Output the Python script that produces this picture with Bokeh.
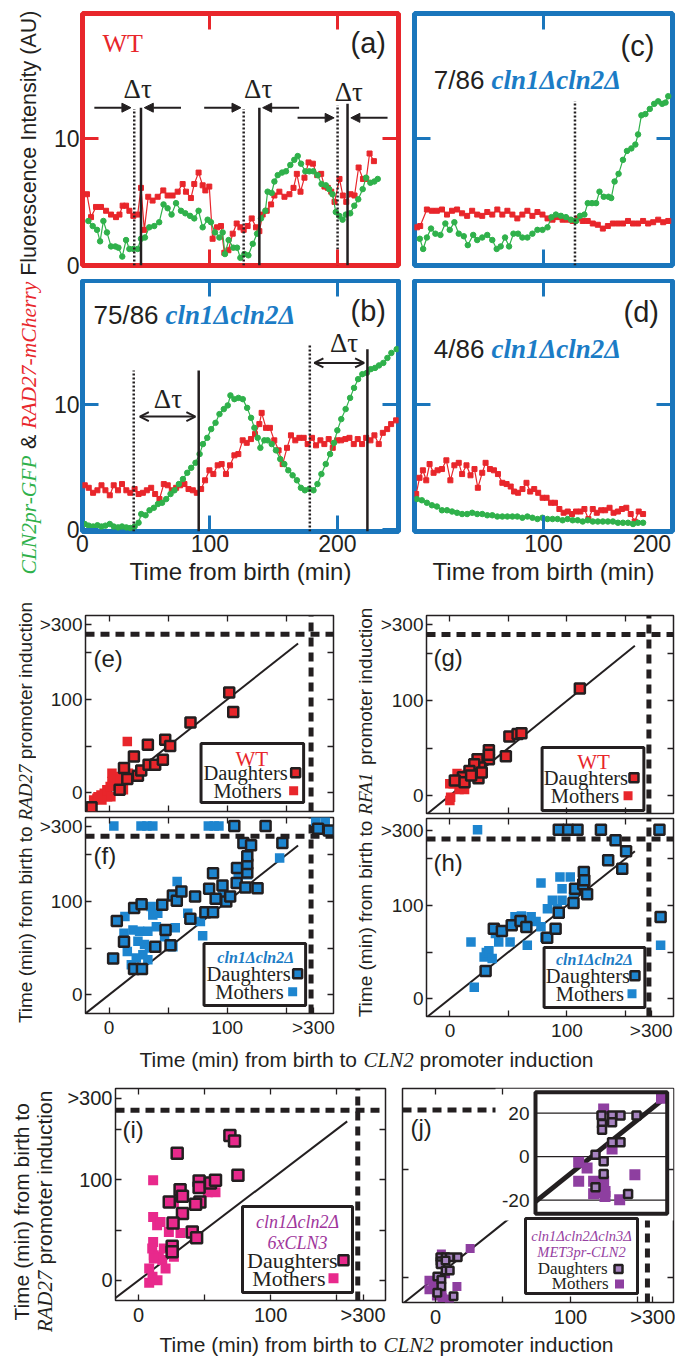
import math
from bokeh.plotting import figure
from bokeh.layouts import row, column
from bokeh.models import Range1d, LinearAxis, FixedTicker, Label, Arrow, NormalHead, OpenHead
from bokeh.core.properties import value
from bokeh.embed import file_html
from bokeh.resources import INLINE

# ======================= DATA =======================
# Single-cell traces: (time from birth [min], fluorescence [AU])
a_red = [(3.5,5.6),(6.7,3.8),(10.6,4.6),(14.5,4.6),(18.5,4.3),(22.4,4.0),(26.3,3.8),(29,4.0),(31.5,4.7),(34.2,4.7),
         (36.8,4.3),(39.9,3.9),(43.3,4.0),(45.9,6.1),(48.5,2.8),(51.6,5.4),(55,5.1),(59,5.4),(63.4,5.9),(66.8,5.5),
         (70.7,5.5),(74.7,5.8),(78.6,6.4),(81.2,5.8),(85.1,5.3),(87.7,6.4),(91.1,7.3),(94.3,6.3),(96.4,5.9),(99.5,6.2),
         (102.1,2.1),(105.6,3.0),(108.7,3.1),(111.3,1.0),(114.5,1.2),(117.9,2.5),(121,3.3),(123.9,3.0),(126.5,2.8),
         (129.6,3.1),(132.8,3.7),(136.2,3.0),(138.8,2.7),(141.4,4.0),(144.6,4.3),(148,4.8),(150.6,5.5),(154.5,5.8),
         (158.5,5.4),(162.4,5.6),(165.6,6.1),(168.2,7.2),(171.1,5.8),(174.2,6.9),(177.4,8.1),(180.8,8.0),(184.2,7.1),
         (187.3,7.2),(189.9,6.2),(192.5,6.1),(195.2,5.8),(197.8,5.0),(201.7,6.8),(204.3,5.5),(207,5.0),(210.4,5.6),
         (213.5,5.5),(216.7,7.7),(220.1,6.8),(222.7,6.8),(225.3,8.8),(228.7,8.2)]
a_green = [(4.6,3.5),(8,3.1),(11.4,2.8),(13.8,1.9),(16.4,3.5),(19.2,2.6),(22.4,1.5),(25.8,1.5),(28.2,1.4),(31.2,0.7),
           (34.2,2.0),(36.8,1.3),(39.9,1.3),(43.3,1.3),(45.9,2.1),(49,2.2),(52.4,3.0),(56.3,3.1),(60.2,3.4),(63.6,4.8),
           (66.8,4.5),(69.9,4.0),(73.4,4.9),(77.3,4.3),(80.7,4.1),(84.4,3.9),(87.7,3.7),(91.1,4.3),(94.3,3.0),(98.2,3.6),
           (100.8,3.4),(104,2.6),(107.4,2.2),(110,2.6),(111.8,0.9),(114.7,2.0),(118.4,1.4),(121.3,1.4),(123.9,0.6),
           (127.1,0.9),(130.2,0.8),(133.6,1.7),(137,2.5),(140.1,3.7),(143.5,4.3),(145.3,5.8),(148.5,5.7),(150.6,6.6),
           (153.2,7.1),(156.6,7.3),(159.7,7.4),(163.1,7.9),(166.2,8.3),(168.9,8.6),(171.5,8.0),(174.9,7.4),(178,7.4),
           (181.1,7.4),(184.5,7.1),(187.6,6.4),(191,6.3),(193.6,6.0),(196.2,5.6),(198.8,4.2),(201.5,3.9),(204.1,3.6),
           (206.7,4.0),(210.1,4.1),(213.3,4.7),(216.4,5.2),(219.9,6.0),(222.5,6.9),(225.9,6.5),(229,6.6),(231.7,6.8)]
a_dotted = [40.6, 126.5, 200.2]          # CLN2 promoter induction
a_dotted_top = [12.3, 12.3, 12.6]
a_solid = [45.9, 138.8, 208.0]           # RAD27 promoter induction
a_solid_top = [12.4, 12.4, 12.7]
a_arrows = [(9.3, 38.0, 12.4), (77.3, 48.5, 12.4), (95.5, 124.4, 12.4), (170.0, 141.4, 12.4),
            (168.8, 197.5, 11.6), (239.4, 210.6, 11.6)]
a_dtau = [(43.3, 13.9), (137.9, 13.9), (209.0, 13.6)]

b_green = [(1.8,0.4),(4.9,0.27),(8.3,0.2),(11.7,0.3),(14.9,0.2),(18,0.27),(21.4,0.4),(24.5,0.2),(27.9,0.13),(31,0.2),
           (34.4,0.13),(37.5,0.08),(40.9,0.2),(44,0.5),(46.1,1.2),(49.5,1.1),(52.6,1.5),(56,1.7),(59.2,2.0),(62.5,2.1),
           (65.7,2.4),(69.1,2.8),(72.2,3.1),(75.6,3.6),(78.8,4.0),(82.2,4.5),(85.3,4.9),(88.7,5.3),(91.9,6.0),(94.5,6.8),
           (97.9,7.3),(101,8.0),(104.4,8.5),(107.5,9.2),(110.9,9.6),(114,9.9),(116.1,10.7),(119.2,10.4),(122.4,10.5),
           (125.8,10.4),(129.2,9.7),(132.3,8.9),(134.9,8.1),(137.5,7.3),(139.6,6.5),(142.7,7.1),(145.3,7.1),(148.5,6.8),
           (151.8,6.3),(155.2,5.6),(158.4,5.2),(161.5,4.7),(164.9,4.3),(168.3,3.9),(171.4,3.3),(174.5,3.1),(177.9,3.2),
           (181.3,3.1),(184.4,3.6),(187.5,4.4),(190.9,5.2),(194.3,6.0),(197.4,6.9),(200,7.9),(203.1,8.8),(206.5,9.6),
           (210,10.5),(213.1,11.3),(216.3,12.0),(219.6,12.4),(223.1,12.5),(226.2,12.8),(229.6,12.9),(232.7,13.1),
           (236.1,13.3),(239.3,13.7),(242.4,14.1),(246.6,14.4)]
b_red = [(1.8,3.5),(4.9,3.3),(8.3,2.9),(11.7,3.1),(14.9,3.5),(18,3.1),(21.4,2.7),(24.5,3.5),(27.9,3.1),(31,3.6),
         (34.4,3.1),(37.5,2.9),(40.9,3.2),(44,2.8),(47.4,2.9),(50.5,3.1),(53.9,3.3),(57,2.8),(60.4,2.4),(63.8,3.6),
         (66.9,3.5),(70.1,3.1),(73.5,3.3),(76.6,3.5),(80,3.6),(83.2,3.2),(86.6,3.1),(89.7,2.9),(93.1,3.2),(96.2,3.9),
         (99.6,4.7),(102.7,4.4),(106.1,5.1),(109.2,5.2),(112.6,4.4),(115.8,5.1),(119.2,5.9),(122.3,6.0),(125.7,7.1),
         (128.9,6.9),(132.2,7.2),(135.4,7.6),(138.8,8.4),(140.6,9.3),(144,8.1),(147.1,8.1),(150.5,7.1),(153.9,6.3),
         (157.1,5.2),(160.5,6.5),(163.6,7.5),(167,7.1),(170.2,7.3),(173.6,7.3),(176.7,6.8),(180.1,7.3),(183.3,6.7),
         (186.7,7.1),(189.8,6.8),(193.2,7.2),(196.4,6.5),(199.8,7.1),(202.9,7.1),(206.3,7.2),(209.5,7.3),(212.9,6.8),
         (216,7.2),(219.4,6.8),(222.6,7.3),(226,7.1),(229.1,7.5),(232.5,6.8),(235.7,7.7),(239.1,8.0),(242.2,8.4),
         (246.1,8.7)]
b_dotted = [40.2, 178.4]
b_dotted_top = [12.7, 14.7]
b_solid = [91.2, 223.6]
b_solid_top = [12.7, 14.4]
b_arrows = [(45.0, 88.6, 9.0), (182.0, 221.0, 13.3)]
b_dtau = [(67.0, 10.4), (205.3, 14.9)]

c_red = [(1.9,3.0),(4.4,3.1),(9.6,4.4),(13.5,4.3),(17.4,4.3),(21.3,4.4),(25.2,4.0),(29.1,4.3),(33,4.4),(36.9,4.1),
         (40.8,3.9),(44.7,4.3),(48.6,4.0),(52.5,3.9),(56.4,4.2),(60.3,4.0),(64.2,4.4),(68.1,4.0),(72,4.3),(75.9,4.0),
         (79.7,3.7),(83.6,4.0),(87.5,4.3),(91.4,3.9),(95.3,4.2),(99.2,4.0),(103.1,3.7),(107,3.6),(110.9,3.8),(114.8,3.6),
         (118.7,3.6),(122.6,3.5),(126.5,3.7),(130.4,3.5),(134.3,3.5),(138.2,3.3),(142.1,3.2),(146,2.9),(149.9,3.1),
         (153.8,3.3),(157.7,3.3),(161.6,3.3),(165.5,3.5),(169.4,3.3),(173.3,3.3),(177.2,3.5),(181.1,3.3),(185,3.4),
         (188.9,3.6),(192.8,3.4),(196.7,3.5)]
c_green = [(4.1,2.1),(6.7,1.3),(9.6,2.2),(12.8,2.9),(16.2,2.5),(20.1,2.4),(23.9,3.3),(27.3,2.8),(30.9,3.4),(34.3,2.5),
           (38.2,2.3),(41.3,1.6),(45.5,2.4),(48.6,2.0),(52.5,2.2),(56.4,2.4),(60.3,2.0),(63.7,1.3),(66.8,1.5),(70.2,2.2),
           (73.3,1.5),(76.7,2.5),(80.3,2.5),(83.6,2.2),(87.5,2.2),(91.4,2.5),(95.3,2.8),(99.2,2.8),(103.1,3.0),(106.2,3.8),
           (109.6,4.0),(113.5,3.9),(117.4,3.8),(121.3,3.6),(125.2,3.5),(128.3,3.9),(131.7,4.0),(134.3,4.9),(137.6,4.9),
           (140.8,4.9),(143.4,5.8),(146.7,5.4),(150.4,5.4),(152.5,5.3),(155.1,6.6),(158.2,7.2),(161.6,8.3),(164.7,9.0),
           (168.1,9.2),(171.2,9.5),(173.3,10.3),(175.9,11.8),(179,11.9),(182.4,12.3),(185.8,12.7),(188.9,12.9),
           (192,12.7),(194.6,12.8),(196.7,13.3)]
c_dotted = [124.4]
c_dotted_top = [12.9]

d_red = [(1.3,2.8),(3.9,4.1),(6.5,4.7),(9.1,3.9),(11.7,5.2),(14.8,4.5),(17.9,4.7),(21.3,4.8),(24.7,5.5),(27.8,3.9),
         (30.9,5.1),(34.3,5.3),(36.9,4.4),(40.3,5.1),(43.4,4.3),(46.5,4.8),(49.1,3.3),(52.5,4.5),(55.1,5.3),(58.5,4.8),
         (61.6,4.7),(64.7,4.4),(68.1,3.7),(71.4,3.6),(74.6,3.4),(77.2,3.0),(80.3,2.9),(83.7,3.2),(86.8,3.7),(89.7,3.0),
         (92.8,3.2),(95.9,2.9),(99.3,2.5),(102.4,2.5),(105.8,2.1),(108.9,2.1),(112.3,1.6),(115.6,1.3),(118.8,1.4),
         (122.1,1.2),(125.2,1.4),(128.6,1.4),(131.7,1.6),(134.8,0.8),(138.2,1.6),(141.3,1.3),(144.7,1.5),(147.8,1.5),
         (151.2,1.7),(154.3,1.3),(157.7,1.4),(160.8,1.6),(164.2,1.7),(167.6,1.2),(170.7,0.6),(173.8,1.4),(177.2,1.2)]
d_green = [(1.8,2.4),(5.7,2.3),(9.6,2.1),(13.5,1.9),(17.4,1.8),(21.3,1.5),(25.2,1.5),(29.1,1.4),(33,1.3),(36.9,1.2),
           (40.8,1.2),(44.7,1.3),(48.6,1.2),(52.5,1.2),(56.4,1.1),(60.3,1.1),(64.2,1.0),(68.1,1.0),(72,1.0),(75.9,1.0),
           (79.7,1.0),(83.6,0.9),(87.5,1.0),(91.4,0.9),(95.3,0.8),(99.2,0.9),(103.1,0.8),(107,0.8),(110.9,0.8),
           (114.8,0.7),(118.7,0.8),(122.6,0.7),(126.5,0.7),(130.4,0.6),(134.3,0.7),(138.2,0.6),(142.1,0.6),(146,0.6),
           (149.9,0.6),(153.8,0.6),(157.7,0.5),(161.6,0.5),(165.5,0.5),(169.4,0.4),(173.3,0.5),(177.2,0.5)]

# Scatter: (time to CLN2 induction, time to RAD27/RFA1 induction) [min]; >300 plotted in the break band
e_daughters = [(-14.9,-15.4),(8.9,3.2),(12.6,26.5),(15.4,14.7),(21.0,38.9),(24.4,18.2),(27.2,23.9),(32.8,51.4),
               (33.4,30),(39,30),(45.5,35.4),(47.5,56.8),(51.7,50.3),(68.9,75.4),(101.7,107.5),(105.1,86.5)]
e_mothers = [(-13.1,-7.6),(-10.3,-5.8),(-6.9,-2.3),(-4.1,-0.5),(-1.9,3.2),(0.9,6.7),(2.4,12.1),(4.3,17.5),(2.4,21.1),
             (-1.3,-4.1),(-6.1,-7.6),(-9.4,-4.1),(6.5,10.3),(12.1,3.2),(16.3,21.1),(24.8,17.5),(9.3,16.3),(1.5,-4.1),
             (15.4,55.0)]
f_daughters = [(3.4,39),(6.5,79),(12.6,57),(21.1,27.6),(27.8,27.6),(21.2,93),(27.5,97),(39.1,51.6),(45,96.4),
               (47.8,69.5),(52,53.2),(54,106.5),(57.3,100.7),(61.2,110.8),(68.8,81.4),(72.8,105.4),(81.5,88.5),
               (88,88.5),(84.7,113.6),(88,130.4),(90.2,102.9),(96,117.2),(99.2,100),(102.5,105.4),(108,119.7),
               (108.3,135.8),(113.7,162.7),(115.4,115.1),(117,131.2),(117,140.1),(117,148.4),(120.2,160.2),
               (125.7,114.3),(146.7,162.7),(106,181),(132.5,181),(177,178),(186,176)]
f_mothers = [(13.4,83.9),(12.6,66),(15.4,46.3),(20.2,69.5),(25.8,68.1),(32.8,68.1),(24.4,57.3),(30,53.8),(34.2,50.2),
             (28.6,43),(23,39.4),(18.8,32.2),(32.8,37.6),(35.6,94.6),(41.2,87.4),(37,85.6),(40,73),(47,62.2),
             (54,51.4),(56,71.9),(57.6,121.5),(66.6,87.4),(77.3,78.5),(79.2,63.4),(96.1,109),(109.3,130.4),
             (117.2,128.7),(144.4,146.6),(4,181),(27,181),(32,181),(37,181),(84,181),(89,181),(93,181),
             (175,186),(183,186)]
g_daughters = [(111,113),(50.8,62.4),(57.8,64.9),(61.1,65.6),(47.8,41.4),(33.3,47.7),(33.3,38.2),(33.3,43),
               (23.6,38.2),(25.8,29.5),(20.8,33),(16.7,25.9),(24.4,18.2),(27.2,24.2),(11.1,19.3),(4.2,15.8),
               (12.5,14),(18.1,21.1)]
g_mothers = [(0,-5.3),(0.6,-1.8),(2.8,12.3),(7,14),(7.8,6.3),(12.5,6.3),(9.7,17.5),(11.7,21.1),(14.5,22.1),
             (6.1,23.2),(-0.1,12.3),(16.7,25.9),(19.4,25.9),(8.6,10.5)]
h_daughters = [(30.5,29.6),(37.5,75),(44.4,72.5),(52.8,78.6),(60.3,83.3),(65.3,76.9),(83.1,65.3),(90.3,75),(93,92),
               (105.6,102.5),(106.9,117.9),(113.9,122.6),(117.2,111.8),(114.4,135.7),(114.8,126.8),(135.2,148.2),
               (147.2,139.3),(141.5,169.7),(150.5,157.9),(180,87.5),(93,181),(101,181),(109,181),(129,181),(179,181)]
h_mothers = [(18,60.7),(20.8,12.4),(29.2,44.6),(31.1,49.4),(33.3,51.4),(36.1,43.2),(38.9,70),(41.7,60.7),(51.4,60.7),
             (55.6,87.9),(61.1,88.6),(66.1,57.2),(69.4,87.9),(73.6,82.6),(77.8,77.2),(81.1,65.8),(83.3,96.5),
             (87.5,105.4),(91.7,96.5),(95.8,105.4),(102.8,130.4),(105.6,108.9),(95.8,117.9),(77.8,124),(94,130.3),
             (180,57.2),(23.6,181)]
i_daughters = [(29.3,126.4),(69.2,144),(72.7,138.4),(75.3,104.4),(23.3,77.9),(31.5,90),(33.3,83.5),(45.9,98.8),
               (45.9,92.2),(46.5,77.9),(54.5,96.7),(58.3,99.4),(43.2,75.6),(33.3,66.4),(26.2,57.1),(40.7,48.1),
               (44,42.5),(25.5,34),(25.5,28.4)]
i_mothers = [(11.1,99.4),(11.1,63.1),(14.1,54.8),(16.7,58.1),(23,48.1),(31.8,47.1),(26.8,77.9),(11.1,38.3),
             (10.4,31.7),(11.6,25.1),(15.4,23.5),(19.2,31.7),(18,20.2),(20.5,11.9),(8.1,11.9),(10.6,3.6),(14.4,0.3),
             (8.1,-2.3),(11.6,21.8),(52.5,87.5),(58.3,87.5),(26.8,23.5)]
j_daughters = [(3.6,18.9),(7.5,18.9),(10.6,18.9),(16.5,18.9),(3.8,15),(3.8,12.3),(7.5,15.8),(7.5,6.6),(10.6,6.6),
               (1.4,0.9),(4.4,-2.1),(4.4,-8),(1.4,-14.1),(13.4,-17.2)]
j_mothers = [(4.4,21.9),(7.5,3.5),(-4.8,-2.6),(-1.7,-5.2),(-4.8,-11.3),(0.7,-11.3),(3.2,-16.6),(0.7,-17.1),
             (4.9,-16),(4.9,-18.4),(15.9,-8.4),(10.3,-19.8),(25.7,26.8),(4.4,-11.3)]
inset_ticks = [20, 0, -20]

# ======================= STYLE =======================
SANS = "Liberation Sans"
SERIF = "Liberation Serif"
INK = "#231f20"
RED = "#e8262b"
GREEN = "#2fb14b"
RED_F = "#e8262b"
BLUE_F = "#1a76bc"
BLUE = "#1d85cf"
BLUE_T = "#1b7cc6"
PINK = "#e8298c"
PINK_T = "#a0369c"
J_MOTH = "#8e3fa0"
J_DAUG = "#a784c1"
J_T = "#9641a1"

HELV = {' ':278,'(':333,')':333,'-':333,'&':667,'/':278,'>':584,'A':667,'C':722,'D':722,'F':611,'G':778,'I':278,
        'L':556,'N':722,'P':667,'R':722,'T':611,'U':722,'a':556,'b':556,'c':500,'d':556,'e':556,'f':278,'h':556,
        'i':222,'l':222,'m':833,'n':556,'o':556,'p':556,'r':333,'s':500,'t':278,'u':556,'y':500,'x':500}
TI = {' ':250,'-':333,'A':611,'C':667,'D':722,'E':611,'F':611,'G':722,'L':556,'M':833,'N':667,'P':611,'R':611,
      'T':556,'c':444,'e':444,'h':500,'l':278,'m':722,'n':500,'p':500,'r':389,'x':444,'y':444,'\u0394':612}
TBI = {'c':444,'l':278,'n':556,'\u0394':612}


def tw(s, tbl, size):
    d = 556 if tbl is HELV else 500
    return sum(tbl.get(c, d) for c in s) * size / 1000.0


def xs(pts):
    return [p[0] for p in pts]


def ys(pts):
    return [p[1] for p in pts]


# ======================= LAYOUT (px inside the 8px page margin) =======================
FR = {'a': (74, 5, 316, 252), 'c': (406, 5, 258, 252), 'b': (74, 272, 316, 251), 'd': (406, 272, 258, 251),
      'e': (76, 607, 249, 196), 'f': (76, 809, 249, 196), 'g': (415, 607, 250, 198), 'h': (415, 810, 250, 198),
      'i': (107, 1080, 270, 212), 'j': (394, 1080, 271, 214)}
BOX = {'a': (36, 0, 362, 271), 'c': (398, 0, 269, 271), 'b': (36, 271, 362, 318), 'd': (398, 271, 269, 318),
       'e': (28, 589, 312, 217), 'f': (28, 806, 312, 229), 'g': (369, 589, 298, 219), 'h': (369, 808, 298, 227),
       'i': (50, 1077, 332, 247), 'j': (382, 1077, 285, 247)}
XR = {'a': (0, 248), 'b': (0, 248), 'c': (0, 200), 'd': (0, 200), 'e': (-20, 190), 'f': (-20, 190),
      'g': (-20, 191), 'h': (-20, 191), 'i': (-17.4, 187), 'j': (-24.4, 176.3)}
YR = {'a': (0, 19.8), 'c': (0, 19.8), 'b': (-0.2, 19.9), 'd': (-0.2, 19.9), 'e': (-20, 190), 'f': (-20, 190),
      'g': (-19, 190), 'h': (-19, 193), 'i': (-19.9, 190.6), 'j': (-23.1, 175)}


def dx(k, rx):
    l, t, w, h = FR[k]
    x0, x1 = XR[k]
    return x0 + (rx - 8 - l) / w * (x1 - x0)


def dy(k, ry):
    l, t, w, h = FR[k]
    y0, y1 = YR[k]
    return y1 - (ry - 8 - t) / h * (y1 - y0)


def base_fig(k):
    l, t, w, h = FR[k]
    fl, ft, fw, fh = BOX[k]
    p = figure(width=fw, height=fh, x_range=Range1d(*XR[k]), y_range=Range1d(*YR[k]),
               toolbar_location=None, output_backend="svg", title=None,
               min_border_left=l - fl, min_border_right=fl + fw - l - w,
               min_border_top=t - ft, min_border_bottom=ft + fh - t - h)
    p.xgrid.visible = False
    p.ygrid.visible = False
    p.background_fill_color = "white"
    p.border_fill_color = "white"
    return p


def text_fig(box):
    fl, ft, fw, fh = box
    p = figure(width=fw, height=fh, x_range=Range1d(0, fw), y_range=Range1d(0, fh), toolbar_location=None,
               output_backend="svg", title=None, x_axis_location=None, y_axis_location=None, min_border=0)
    p.outline_line_color = None
    p.grid.visible = False
    return p


def hide_labels(ax, ticks):
    ax.major_label_text_font_size = "0px"
    ax.major_label_text_color = None
    ax.major_label_standoff = 0
    ax.major_label_overrides = {t: "" for t in ticks}


def set_axes(p, xt, yt, xt2, yt2, color, tw_, tin, fsize, show_b, show_l, xover=None, yover=None, standoff=4):
    bottom = p.below[0]
    left = p.left[0]
    top = LinearAxis()
    right = LinearAxis()
    p.add_layout(top, "above")
    p.add_layout(right, "right")
    for ax, ticks, show, over in [(bottom, xt, show_b, xover), (top, xt2, False, None),
                                  (left, yt, show_l, yover), (right, yt2, False, None)]:
        ax.ticker = FixedTicker(ticks=ticks)
        ax.axis_line_color = None
        ax.major_tick_line_color = color
        ax.major_tick_line_width = tw_
        ax.major_tick_in = tin
        ax.major_tick_out = 0
        ax.minor_tick_line_color = None
        ax.major_label_text_font = SANS
        ax.major_label_text_color = INK
        if show:
            ax.major_label_text_font_size = fsize
            ax.major_label_standoff = standoff
            if over:
                ax.major_label_overrides = over
        else:
            hide_labels(ax, ticks)
    return bottom, left


def lab(p, x, y, text, font, size, color, style="normal", align="left", baseline="middle", angle=0.0):
    p.add_layout(Label(x=x, y=y, text=text, text_font=font, text_font_size=f"{size}px", text_font_style=style,
                       text_color=color, text_align=align, text_baseline=baseline, angle=angle))


def ptext(p, k, rx, ry, text, font, size, color, style="normal", align="left"):
    # ry is the vertical centre of the glyphs in the reference picture
    lab(p, dx(k, rx), dy(k, ry), text, font, size, color, style, align, "middle")


def pchain(p, k, rx, ry, segs):
    cur = rx
    for (t, f, st, sz, col, tb, gap) in segs:
        cur += gap
        ptext(p, k, cur, ry, t, f, sz, col, st)
        cur += tw(t, tb, sz)


def vchain(p, x, cy, segs):
    total = sum(tw(t, tb, sz) + gap for (t, f, st, sz, col, tb, gap) in segs)
    y = cy - total / 2
    for (t, f, st, sz, col, tb, gap) in segs:
        y += gap
        lab(p, x, y, t, f, sz, col, st, "left", "middle", math.pi / 2)
        y += tw(t, tb, sz)


def hchain(p, cx, y, segs):
    total = sum(tw(t, tb, sz) + gap for (t, f, st, sz, col, tb, gap) in segs)
    x = cx - total / 2
    for (t, f, st, sz, col, tb, gap) in segs:
        x += gap
        lab(p, x, y, t, f, sz, col, st, "left", "middle")
        x += tw(t, tb, sz)


def style_xlabel(ax):
    ax.axis_label = "Time from birth (min)"
    ax.axis_label_text_font = SANS
    ax.axis_label_text_font_size = "24px"
    ax.axis_label_text_font_style = "normal"
    ax.axis_label_text_color = INK
    ax.axis_label_standoff = 3


# ======================= TIME-SERIES PANELS =======================
def ts_panel(k, frame_color, red, green, xt, yt, show_b, show_l):
    p = base_fig(k)
    p.outline_line_color = frame_color
    p.outline_line_width = 5
    p.outline_line_alpha = 1.0
    b, l = set_axes(p, xt, yt, xt, yt, frame_color, 3, 16, "23px", show_b, show_l, standoff=3)
    p.line(xs(red), ys(red), color=RED, line_width=1.2)
    p.scatter(xs(red), ys(red), marker="square", size=5, color=RED)
    p.line(xs(green), ys(green), color=GREEN, line_width=1.2)
    p.scatter(xs(green), ys(green), marker="circle", size=5.5, color=GREEN)
    return p, b, l


def vlines(p, k, xs_, tops, dotted):
    y0 = YR[k][0]
    p.segment(x0=xs_, x1=xs_, y0=[y0] * len(xs_), y1=tops, color=INK, line_width=2.5,
              line_dash="2 2" if dotted else "solid")


pa, _, _ = ts_panel('a', RED_F, a_red, a_green, [100, 200], [0, 10], False, True)
vlines(pa, 'a', a_dotted, a_dotted_top, True)
vlines(pa, 'a', a_solid, a_solid_top, False)
for (x0, x1, yv) in a_arrows:
    pa.add_layout(Arrow(x_start=x0, y_start=yv, x_end=x1, y_end=yv, line_width=2, line_color=INK,
                        end=NormalHead(size=9, fill_color=INK, line_color=INK)))
for (xv, yv) in a_dtau:
    lab(pa, xv, yv, "\u0394\u03c4", SERIF, 27, INK, align="center", baseline="middle")
ptext(pa, 'a', 102, 43, "WT", SERIF, 26, RED)
ptext(pa, 'a', 350, 42.5, "(a)", SANS, 29, INK)

pb, bb, _ = ts_panel('b', BLUE_F, b_red, b_green, [0, 100, 200], [0, 10], True, True)
vlines(pb, 'b', b_dotted, b_dotted_top, True)
vlines(pb, 'b', b_solid, b_solid_top, False)
for (x0, x1, yv) in b_arrows:
    pb.add_layout(Arrow(x_start=x0, y_start=yv, x_end=x1, y_end=yv, line_width=2, line_color=INK,
                        start=OpenHead(size=9, line_width=2, line_color=INK),
                        end=OpenHead(size=9, line_width=2, line_color=INK)))
for (xv, yv) in b_dtau:
    lab(pb, xv, yv, "\u0394\u03c4", SERIF, 27, INK, align="center", baseline="middle")
pchain(pb, 'b', 93, 314, [("75/86", SANS, "normal", 26, INK, HELV, 0),
                          ("cln1\u0394cln2\u0394", SERIF, "bold italic", 27, BLUE_T, TBI, 7)])
ptext(pb, 'b', 350, 310.5, "(b)", SANS, 29, INK)
style_xlabel(bb)

pc, _, _ = ts_panel('c', BLUE_F, c_red, c_green, [100, 200], [10], False, False)
vlines(pc, 'c', c_dotted, c_dotted_top, True)
pchain(pc, 'c', 433.3, 79.5, [("7/86", SANS, "normal", 26, INK, HELV, 0),
                              ("cln1\u0394cln2\u0394", SERIF, "bold italic", 27, BLUE_T, TBI, 7)])
ptext(pc, 'c', 620, 45, "(c)", SANS, 29, INK)

pd, bd, _ = ts_panel('d', BLUE_F, d_red, d_green, [100, 200], [10], False, False)
# tick labels of (d) sit on a second, mark-less axis: "200" is printed left of the frame corner as in the figure
d_lab_ticks = [100, 184]
d_axis = LinearAxis(ticker=FixedTicker(ticks=d_lab_ticks), major_label_overrides={184: "200"})
d_axis.axis_line_color = None
d_axis.major_tick_line_color = None
d_axis.major_tick_in = 0
d_axis.major_tick_out = 0
d_axis.minor_tick_line_color = None
d_axis.major_label_text_font = SANS
d_axis.major_label_text_font_size = "23px"
d_axis.major_label_text_color = INK
d_axis.major_label_standoff = 3
style_xlabel(d_axis)
pd.add_layout(d_axis, "below")
pchain(pd, 'd', 433.3, 348.5, [("4/86", SANS, "normal", 26, INK, HELV, 0),
                               ("cln1\u0394cln2\u0394", SERIF, "bold italic", 27, BLUE_T, TBI, 7)])
ptext(pd, 'd', 623, 311.5, "(d)", SANS, 29, INK)

# ======================= SCATTER PANELS =======================
def sc_panel(k, daughters, mothers, dfill, mfill, dsize, msize, xt, yt, xover, yover, show_b, show_l, fsize,
             gx, gy, diag_hi, top_t=(0, 50, 100, 150), right_t=(0, 50, 100, 150)):
    p = base_fig(k)
    p.outline_line_color = INK
    p.outline_line_width = 1.5
    set_axes(p, xt, yt, list(top_t), list(right_t), INK, 1.3, 6, fsize, show_b, show_l, xover, yover, standoff=3)
    x0, x1 = XR[k]
    y0, y1 = YR[k]
    p.line([x0, x1], [gy, gy], color=INK, line_width=5, line_dash="9 6")
    p.line([gx, gx], [y0, y1], color=INK, line_width=5, line_dash="9 6")
    lo = max(x0, y0)
    p.line([lo, diag_hi], [lo, diag_hi], color=INK, line_width=2)
    p.scatter(xs(mothers), ys(mothers), marker="square", size=msize, fill_color=mfill, line_color=None)
    p.scatter(xs(daughters), ys(daughters), marker="square", size=dsize, fill_color=dfill, line_color=INK,
              line_width=2.5)
    return p


def legend(p, k, box, titles, tcx, lines, dfill, mfill, dsize, msize, fsize):
    bx0, by0, bx1, by1 = box
    p.quad(left=dx(k, bx0), right=dx(k, bx1), top=dy(k, by0), bottom=dy(k, by1), fill_color="white",
           line_color=INK, line_width=3)
    for (t, st, sz, col, base) in titles:
        ptext(p, k, tcx, base - 0.33 * sz, t, SERIF, sz, col, st, align="center")
    (dtxt, dbase, dright, dkey), (mtxt, mbase, mright, mkey) = lines
    dmid = dbase - 0.33 * fsize
    mmid = mbase - 0.33 * fsize
    ptext(p, k, dright, dmid, dtxt, SERIF, fsize, INK, align="right")
    ptext(p, k, mright, mmid, mtxt, SERIF, fsize, INK, align="right")
    p.scatter([dx(k, dkey)], [dy(k, dmid)], marker="square", size=dsize, fill_color=dfill,
              line_color=INK, line_width=2.5)
    p.scatter([dx(k, mkey)], [dy(k, mmid)], marker="square", size=msize, fill_color=mfill,
              line_color=None)


T0 = [0, 50, 100, 150]
pe = sc_panel('e', e_daughters, e_mothers, RED, RED, 10, 9.5, T0, T0 + [180], None, {50: "", 150: "", 180: ">300"},
              False, True, "19px", 171, 170, 160)
legend(pe, 'e', (200, 743, 303, 802), [("WT", "normal", 21, RED, 765)], 251,
       [("Daughters", 779, 287, 295), ("Mothers", 797, 281, 293)], RED, RED, 9, 9, 20.5)
ptext(pe, 'e', 92, 657.5, "(e)", SANS, 24, INK)

pf = sc_panel('f', f_daughters, f_mothers, BLUE, BLUE, 10, 9.5, T0 + [173], T0 + [180],
              {50: "", 150: "", 173: ">300"}, {50: "", 150: "", 180: ">300"}, True, True, "19px", 171, 170, 160)
legend(pf, 'f', (203, 943, 305, 1005), [("cln1\u0394cln2\u0394", "bold italic", 16, BLUE_T, 962)], 255,
       [("Daughters", 980, 290, 297), ("Mothers", 998, 283, 292)], BLUE, BLUE, 9, 9, 20.5)
ptext(pf, 'f', 92, 855, "(f)", SANS, 24, INK)

pg = sc_panel('g', g_daughters, g_mothers, RED, RED, 10, 9.5, T0, T0 + [180], None, {50: "", 150: "", 180: ">300"},
              False, True, "19px", 170, 170, 158)
legend(pg, 'g', (540, 747, 643, 810), [("WT", "normal", 21, RED, 768)], 592,
       [("Daughters", 784, 627, 633), ("Mothers", 802, 618, 627)], RED, RED, 9, 9, 20.5)
ptext(pg, 'g', 430, 657, "(g)", SANS, 24, INK)

ph = sc_panel('h', h_daughters, h_mothers, BLUE, BLUE, 10, 9.5, T0 + [172], T0 + [180],
              {50: "", 150: "", 172: ">300"}, {50: "", 150: "", 180: ">300"}, True, True, "19px", 170, 171, 158)
legend(ph, 'h', (542, 947, 644, 1007), [("cln1\u0394cln2\u0394", "bold italic", 16, BLUE_T, 964)], 593,
       [("Daughters", 982, 629, 634), ("Mothers", 1000, 623, 631)], BLUE, BLUE, 9, 9, 20.5)
ptext(ph, 'h', 430, 862, "(h)", SANS, 24, INK)

pi_ = sc_panel('i', i_daughters, i_mothers, PINK, PINK, 11, 10, T0 + [170], T0 + [181],
               {50: "", 150: "", 170: ">300"}, {50: "", 150: "", 181: ">300"}, True, True, "20px", 166, 169, 158)
legend(pi_, 'i', (242, 1206, 352, 1292), [("cln1\u0394cln2\u0394", "italic", 18, PINK_T, 1227),
                                          ("6xCLN3", "italic", 18, PINK_T, 1248)], 297,
       [("Daughters", 1267, 337, 343), ("Mothers", 1285, 325, 333)], PINK, PINK, 10, 10, 22)
ptext(pi_, 'i', 122, 1128.5, "(i)", SANS, 24, INK)

pj = sc_panel('j', j_daughters, j_mothers, J_DAUG, J_MOTH, 7.5, 9, [0, 50, 100, 150, 161], [0, 100],
              {50: "", 150: "", 161: ">300"}, None, True, False, "20px", 157, 155, 160,
              top_t=(0, 50), right_t=(0, 100))
# inset (zoom of the same data) occupying the upper-right of panel (j)
IN_REF = (535, 1091.7, 666.7, 1213.3)
IN_X = (-20.7, 27.8)
IN_Y = (-26.3, 29.6)
lj, tj, wj, hj = FR['j']
fx0 = (IN_REF[0] - 8 - lj) / wj
fx1 = (IN_REF[2] - 8 - lj) / wj
fy0 = (tj + hj - (IN_REF[3] - 8)) / hj
fy1 = (tj + hj - (IN_REF[1] - 8)) / hj
sxr = (IN_X[1] - IN_X[0]) / (fx1 - fx0)
syr = (IN_Y[1] - IN_Y[0]) / (fy1 - fy0)
pj.extra_x_ranges = {"ix": Range1d(IN_X[0] - fx0 * sxr, IN_X[0] - fx0 * sxr + sxr)}
pj.extra_y_ranges = {"iy": Range1d(IN_Y[0] - fy0 * syr, IN_Y[0] - fy0 * syr + syr)}
pj.quad(left=dx('j', 495), right=XR['j'][1], bottom=dy('j', 1220), top=YR['j'][1], fill_color="white",
        line_color=None)
RN = dict(x_range_name="ix", y_range_name="iy")
pj.segment(x0=[IN_X[0]] * 3, x1=[IN_X[1]] * 3, y0=inset_ticks, y1=inset_ticks, line_color=INK, line_width=1.3, **RN)
pj.line([IN_X[0], IN_X[1]], [IN_X[0], IN_X[1]], line_color=INK, line_width=5, **RN)
pj.scatter(xs(j_mothers), ys(j_mothers), marker="square", size=11, fill_color=J_MOTH, line_color=None, **RN)
pj.scatter(xs(j_daughters), ys(j_daughters), marker="square", size=8, fill_color=J_DAUG, line_color=INK,
           line_width=2.5, **RN)
pj.quad(left=IN_X[0], right=IN_X[1], bottom=IN_Y[0], top=IN_Y[1], fill_color=None, line_color=INK, line_width=4,
        **RN)
pj.text(x=[IN_X[0]] * 3, y=inset_ticks, text=[str(v) for v in inset_ticks], x_offset=-6, text_align="right",
        text_baseline="middle", text_font=value(SANS), text_font_size=value("19px"), text_color=INK, **RN)
legend(pj, 'j', (525, 1218, 637, 1293), [("cln1\u0394cln2\u0394cln3\u0394", "italic", 14.5, J_T, 1240),
                                         ("MET3pr-CLN2", "italic", 14.5, J_T, 1256)], 581,
       [("Daughters", 1274, 607, 618), ("Mothers", 1289, 608, 619)], J_DAUG, J_MOTH, 8, 9, 17)
ptext(pj, 'j', 410, 1127, "(j)", SANS, 24, INK)

# ======================= SHARED AXIS TITLES =======================
LA = text_fig((0, 0, 36, 589))
sp = 0.278 * 21.5
vchain(LA, 20, 589 - 284, [("CLN2pr-GFP", SERIF, "italic", 21.5, GREEN, TI, 0),
                           ("&", SANS, "normal", 21.5, INK, HELV, sp),
                           ("RAD27-mCherry", SERIF, "italic", 21.5, RED, TI, sp),
                           ("Fluorescence Intensity (AU)", SANS, "normal", 21.5, INK, HELV, sp)])

sp19 = 0.278 * 19
LB1 = text_fig((0, 589, 28, 446))
vchain(LB1, 17, 446 - (804 - 589), [("Time (min) from birth to", SANS, "normal", 19, INK, HELV, 0),
                                    ("RAD27", SERIF, "italic", 19, INK, TI, sp19),
                                    ("promoter induction", SANS, "normal", 19, INK, HELV, sp19)])
LB2 = text_fig((340, 589, 29, 446))
vchain(LB2, 17, 446 - (804 - 589), [("Time (min) from birth to", SANS, "normal", 19, INK, HELV, 0),
                                    ("RFA1", SERIF, "italic", 19, INK, TI, sp19),
                                    ("promoter induction", SANS, "normal", 19, INK, HELV, sp19)])

sp21 = 0.278 * 21
XSEG = [("Time (min) from birth to", SANS, "normal", 21, INK, HELV, 0),
        ("CLN2", SERIF, "italic", 21, INK, TI, sp21),
        ("promoter induction", SANS, "normal", 21, INK, HELV, sp21)]
LX = text_fig((0, 1035, 667, 42))
hchain(LX, 358, 42 - (1051 - 1035), XSEG)

LC = text_fig((0, 1077, 50, 247))
vchain(LC, 13, 247 - (1203 - 1077), [("Time (min) from birth to", SANS, "normal", 21, INK, HELV, 0)])
vchain(LC, 36, 247 - (1203 - 1077), [("RAD27", SERIF, "italic", 21, INK, TI, 0),
                                     ("promoter induction", SANS, "normal", 21, INK, HELV, sp21)])

LX2 = text_fig((0, 1324, 667, 32))
hchain(LX2, 378, 32 - (1336 - 1324), XSEG)

layout = column(
    row(LA, column(row(pa, pc), row(pb, pd))),
    row(LB1, column(pe, pf), LB2, column(pg, ph)),
    LX,
    row(column(LC), column(pi_), column(pj)),
    LX2,
    margin=(8, 0, 0, 8),
)

open("out.html", "w").write(file_html(layout, INLINE))
